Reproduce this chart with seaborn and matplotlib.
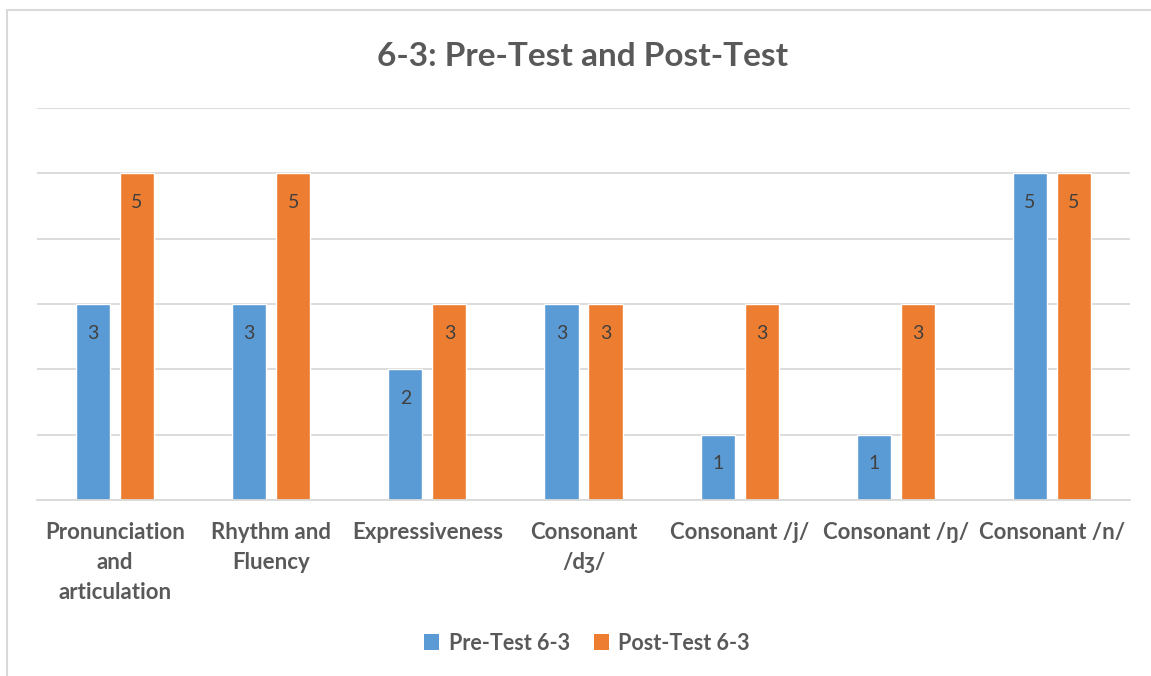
import matplotlib
matplotlib.use("Agg")
import matplotlib.pyplot as plt
from matplotlib.lines import Line2D
from matplotlib.patches import Patch
import seaborn as sns
import pandas as pd

categories = [
    "Pronunciation\nand\narticulation",
    "Rhythm and\nFluency",
    "Expressiveness",
    "Consonant\n/dʒ/",
    "Consonant /j/",
    "Consonant /ŋ/",
    "Consonant /n/",
]
pre_test = [3, 3, 2, 3, 1, 1, 5]
post_test = [5, 5, 3, 3, 3, 3, 5]
series_names = ["Pre-Test 6-3", "Post-Test 6-3"]
series_colors = ["#5B9BD5", "#ED7D31"]
title = "6-3: Pre-Test and Post-Test"

df = pd.DataFrame({
    "category": categories * 2,
    "score": pre_test + post_test,
    "series": [series_names[0]] * len(categories) + [series_names[1]] * len(categories),
})

sns.set_theme(style="white")
plt.rcParams["font.family"] = ["Lato", "DejaVu Sans"]

text_gray = "#595959"
grid_gray = "#D9D9D9"

fig = plt.figure(figsize=(11.51, 6.76), dpi=100)
ax = fig.add_axes([37 / 1151, 1 - 500 / 676, (1130 - 37) / 1151, (500 - 108) / 676])

sns.barplot(
    data=df, x="category", y="score", hue="series",
    palette=series_colors, width=0.564, gap=0.227,
    order=categories, hue_order=series_names,
    legend=False, ax=ax, saturation=1,
)

ax.set_ylim(0, 6)
ax.set_xlim(-0.5, len(categories) - 0.5)
ax.set_yticks(range(0, 7))
ax.set_yticklabels([])
ax.tick_params(axis="y", length=0)
ax.yaxis.grid(True, color=grid_gray, linewidth=1.3)
ax.set_axisbelow(True)
for side in ["top", "right", "left"]:
    ax.spines[side].set_visible(False)
ax.spines["bottom"].set_color(grid_gray)
ax.spines["bottom"].set_linewidth(1.3)
ax.set_xlabel("")
ax.set_ylabel("")

# category labels at centers, separator ticks at category boundaries
ax.set_xticks(range(len(categories)))
ax.set_xticklabels(categories, fontsize=16, fontweight="bold", color=text_gray,
                   linespacing=1.52, va="top")
ax.tick_params(axis="x", which="major", length=0, pad=16)
ax.set_xticks([i - 0.5 for i in range(len(categories) + 1)], minor=True)
ax.tick_params(axis="x", which="minor", length=7, width=1.3, color=grid_gray, direction="out")

# value labels inside the top of each bar
for container in ax.containers:
    for bar in container:
        h = bar.get_height()
        ax.annotate(f"{h:g}", (bar.get_x() + bar.get_width() / 2, h),
                    xytext=(0, -21), textcoords="offset points",
                    ha="center", va="center", fontsize=14, color="#404040")

fig.text(0.506, 1 - 56 / 676, title, ha="center", va="center",
         fontsize=24, fontweight="bold", color=text_gray)

handles = [Patch(facecolor=c, edgecolor="none") for c in series_colors]
fig.legend(handles, series_names, loc="center", bbox_to_anchor=(0.51, 1 - 643 / 676),
           ncol=2, frameon=False, handlelength=0.7, handleheight=0.7,
           handletextpad=0.45, columnspacing=1.1,
           prop={"size": 15.5, "weight": "bold"}, labelcolor=text_gray)

# outer frame along the top and left edges
fig.add_artist(Line2D([7 / 1151, 7 / 1151], [0, 1 - 10 / 676],
                      transform=fig.transFigure, color=grid_gray, linewidth=1.5))
fig.add_artist(Line2D([7 / 1151, 1], [1 - 10 / 676, 1 - 10 / 676],
                      transform=fig.transFigure, color=grid_gray, linewidth=1.5))

fig.savefig("out.png", dpi=100, facecolor="white")
